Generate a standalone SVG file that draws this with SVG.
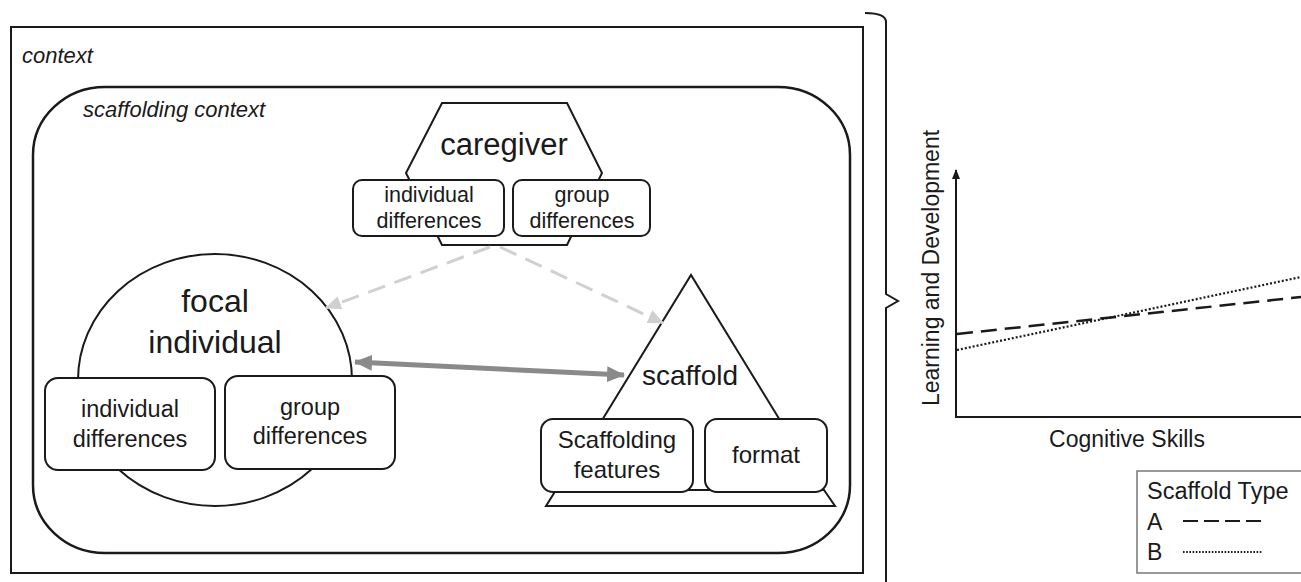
<svg xmlns="http://www.w3.org/2000/svg" width="1301" height="582" viewBox="0 0 1301 582">
<style>
  text { font-family: "Liberation Sans", Arial, sans-serif; fill: #1a1a1a; }
  .it { font-style: italic; font-size: 22px; }
  .mid { text-anchor: middle; }
  .box { fill: #fff; stroke: #1a1a1a; stroke-width: 2; }
  .shape { fill: #fff; stroke: #1a1a1a; stroke-width: 2; }
  .light { fill: none; stroke: #d0d0d0; stroke-width: 3; stroke-dasharray: 18 10; }
  .thick { fill: none; stroke: #8a8a8a; stroke-width: 5; }
</style>
<defs>
  <marker id="lightHead" viewBox="0 0 16 14" refX="15" refY="7" markerWidth="16" markerHeight="14" markerUnits="userSpaceOnUse" orient="auto">
    <path d="M0,0 L16,7 L0,14 Z" fill="#d0d0d0"/>
  </marker>
  <marker id="thickHead" viewBox="0 0 18 16" refX="17" refY="8" markerWidth="18" markerHeight="16" markerUnits="userSpaceOnUse" orient="auto-start-reverse">
    <path d="M0,0 L18,8 L0,16 Z" fill="#8a8a8a"/>
  </marker>
  <marker id="axisHead" viewBox="0 0 10 8" refX="9" refY="4" markerWidth="10" markerHeight="8" markerUnits="userSpaceOnUse" orient="auto">
    <path d="M0,0 L10,4 L0,8 Z" fill="#1a1a1a"/>
  </marker>
</defs>
<rect width="1301" height="582" fill="#fff"/>

<g id="context">
  <rect x="11" y="27" width="852" height="546" fill="none" stroke="#1a1a1a" stroke-width="2"/>
  <text class="it" x="22" y="63">context</text>
</g>

<g id="scaffolding-context">
  <rect x="33" y="87" width="817" height="466" rx="72" ry="68" fill="none" stroke="#1a1a1a" stroke-width="2.5"/>
  <text class="it" x="83" y="117">scaffolding context</text>
</g>

<g id="brace">
  <path d="M865,13 Q886,13 886,22 L886,294 L898,301 L886,308 L886,582" fill="none" stroke="#1a1a1a" stroke-width="2"/>
</g>

<g id="caregiver">
  <polygon class="shape" points="442,103 567,103 602,173 567,245 442,245 406,173"/>
  <text class="mid" x="504" y="155" font-size="31">caregiver</text>
  <rect class="box" x="353" y="180" width="151" height="56" rx="9"/>
  <text class="mid" x="429" y="202" font-size="21.5">individual</text>
  <text class="mid" x="429" y="228" font-size="21.5">differences</text>
  <rect class="box" x="513" y="180" width="137" height="56" rx="9"/>
  <text class="mid" x="582" y="202" font-size="21.5">group</text>
  <text class="mid" x="582" y="228" font-size="21.5">differences</text>
</g>

<g id="focal-individual">
  <ellipse class="shape" cx="215" cy="380" rx="137" ry="126"/>
  <text class="mid" x="215" y="312" font-size="32">focal</text>
  <text class="mid" x="215" y="353" font-size="32">individual</text>
  <rect class="box" x="45" y="378" width="170" height="92" rx="13"/>
  <text class="mid" x="130" y="417" font-size="23.5">individual</text>
  <text class="mid" x="130" y="447" font-size="23.5">differences</text>
  <rect class="box" x="225" y="376" width="170" height="93" rx="13"/>
  <text class="mid" x="310" y="415" font-size="23.5">group</text>
  <text class="mid" x="310" y="444" font-size="23.5">differences</text>
</g>

<g id="scaffold">
  <polygon class="shape" points="556,490 824,490 835,506 546,506"/>
  <path class="shape" d="M596,430 L691,275 L786,430"/>
  <text class="mid" x="690" y="385" font-size="28">scaffold</text>
  <rect class="box" x="541" y="419" width="152" height="73" rx="12"/>
  <text class="mid" x="617" y="448" font-size="24">Scaffolding</text>
  <text class="mid" x="617" y="478" font-size="24">features</text>
  <rect class="box" x="705" y="419" width="122" height="73" rx="12"/>
  <text class="mid" x="766" y="463" font-size="24">format</text>
</g>

<g id="connectors">
  <line class="light" x1="490" y1="247" x2="326" y2="308" marker-end="url(#lightHead)"/>
  <line class="light" x1="500" y1="247" x2="663" y2="323" marker-end="url(#lightHead)"/>
  <line class="thick" x1="355" y1="362" x2="624" y2="375" marker-start="url(#thickHead)" marker-end="url(#thickHead)"/>
</g>

<g id="chart">
  <line x1="956" y1="418" x2="956" y2="170" stroke="#1a1a1a" stroke-width="2" marker-end="url(#axisHead)"/>
  <line x1="955" y1="417" x2="1301" y2="417" stroke="#1a1a1a" stroke-width="2"/>
  <text class="mid" transform="translate(939,268) rotate(-90)" font-size="23">Learning and Development</text>
  <text class="mid" x="1127" y="447" font-size="23">Cognitive Skills</text>
  <line x1="957" y1="334" x2="1301" y2="297" stroke="#1a1a1a" stroke-width="2.5" stroke-dasharray="16 8"/>
  <line x1="957" y1="350" x2="1301" y2="277" stroke="#1a1a1a" stroke-width="2.2" stroke-dasharray="2 2"/>
</g>

<g id="legend">
  <rect x="1137" y="471" width="170" height="102" fill="#fff" stroke="#777" stroke-width="1.5"/>
  <text x="1147" y="499" font-size="23.5">Scaffold Type</text>
  <text x="1147" y="530" font-size="23">A</text>
  <text x="1147" y="560" font-size="23">B</text>
  <line x1="1183" y1="521" x2="1262" y2="521" stroke="#1a1a1a" stroke-width="2" stroke-dasharray="15 6"/>
  <line x1="1183" y1="552" x2="1262" y2="552" stroke="#1a1a1a" stroke-width="1.8" stroke-dasharray="1.6 1.6"/>
</g>
</svg>
